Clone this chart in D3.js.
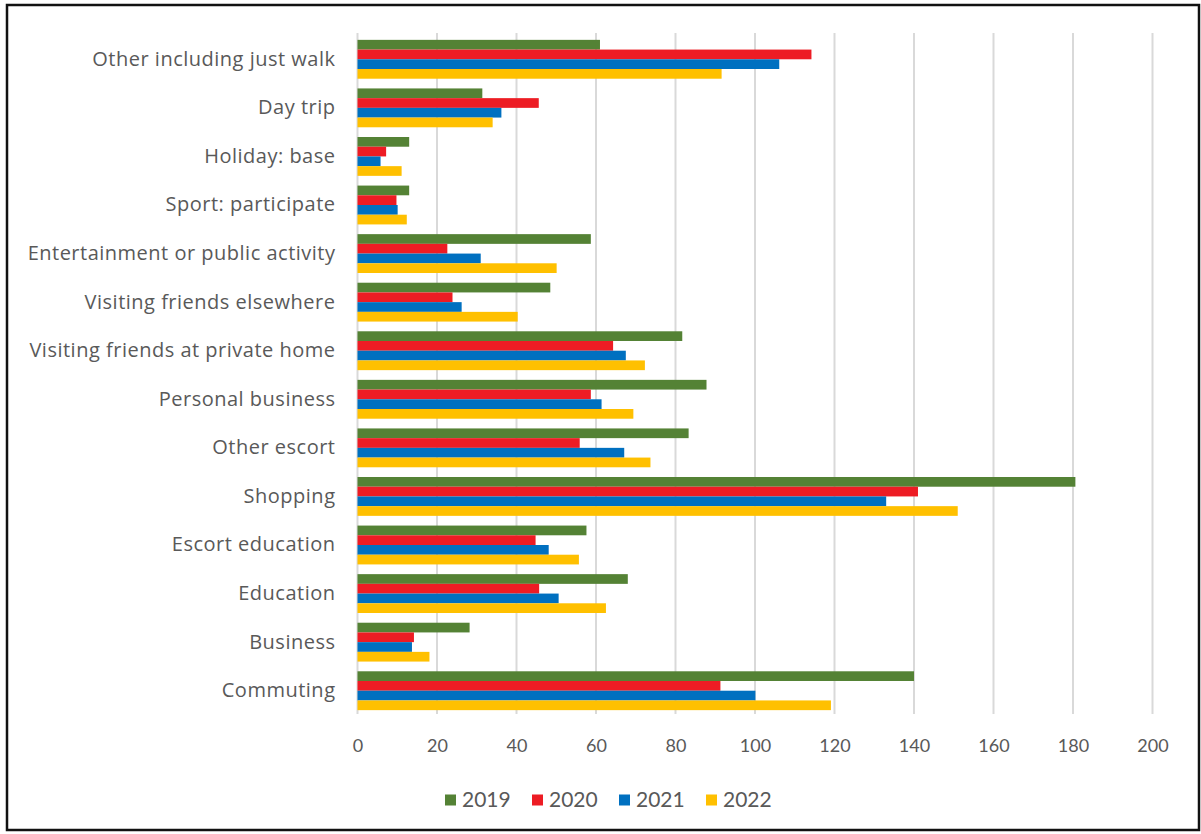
<!DOCTYPE html>
<html>
<head>
<meta charset="utf-8">
<script src="https://cdn.jsdelivr.net/npm/d3@7"></script>
<style>
  html, body { margin: 0; padding: 0; background: #fff; }
  svg { display: block; }
  text { font-family: Lato, "Open Sans", sans-serif; fill: #595959; }
</style>
</head>
<body>
<svg id="chart" width="1201" height="834"></svg>
<script>
// Trip purposes, top to bottom
const categories = [
  "Other including just walk",
  "Day trip",
  "Holiday: base",
  "Sport: participate",
  "Entertainment or public activity",
  "Visiting friends elsewhere",
  "Visiting friends at private home",
  "Personal business",
  "Other escort",
  "Shopping",
  "Escort education",
  "Education",
  "Business",
  "Commuting"
];

const years = ["2019", "2020", "2021", "2022"];
const colors = ["#548235", "#ED1C24", "#0070C0", "#FFC000"];

const values2019 = [61.0, 31.4, 13.0, 13.0, 58.7, 48.5, 81.7, 87.8, 83.3, 180.6, 57.6, 68.0, 28.2, 140.0];
const values2020 = [114.2, 45.6, 7.2, 9.8, 22.6, 23.9, 64.3, 58.7, 55.9, 141.0, 44.8, 45.7, 14.2, 91.3];
const values2021 = [106.1, 36.2, 5.8, 10.1, 31.0, 26.2, 67.5, 61.4, 67.1, 133.0, 48.1, 50.6, 13.7, 100.1];
const values2022 = [91.6, 34.0, 11.1, 12.4, 50.1, 40.3, 72.3, 69.4, 73.7, 151.0, 55.7, 62.5, 18.1, 119.1];

const xTicks = [0, 20, 40, 60, 80, 100, 120, 140, 160, 180, 200];

const seriesValues = [values2019, values2020, values2021, values2022];
const rows = categories.map((c, i) => ({
  category: c,
  values: years.map((y, k) => ({ year: y, value: seriesValues[k][i], color: colors[k] }))
}));

const svg = d3.select("#chart");

// Outer frame
svg.append("rect")
  .attr("x", 7).attr("y", 5)
  .attr("width", 1192).attr("height", 825)
  .attr("fill", "none")
  .attr("stroke", "#111")
  .attr("stroke-width", 2.5);

const plot = { left: 357.5, right: 1152.5, top: 35, bottom: 715 };

const x = d3.scaleLinear().domain([0, 200]).range([plot.left, plot.right]);
const y = d3.scaleBand().domain(categories).range([plot.top, plot.bottom])
  .paddingInner(0.2).paddingOuter(0.1);
const ySub = d3.scaleBand().domain(years).range([0, y.bandwidth()]);

// Vertical gridlines
svg.append("g")
  .selectAll("line")
  .data(xTicks)
  .join("line")
  .attr("x1", d => x(d)).attr("x2", d => x(d))
  .attr("y1", 33).attr("y2", 714)
  .attr("stroke", "#d9d9d9")
  .attr("stroke-width", 2);

// Bars
const groups = svg.append("g")
  .selectAll("g")
  .data(rows)
  .join("g")
  .attr("transform", d => `translate(0,${y(d.category)})`);

groups.selectAll("rect")
  .data(d => d.values)
  .join("rect")
  .attr("x", x(0))
  .attr("y", d => ySub(d.year))
  .attr("width", d => x(d.value) - x(0))
  .attr("height", ySub.bandwidth())
  .attr("fill", d => d.color);

// Category axis
const yAxis = svg.append("g")
  .attr("transform", `translate(${plot.left},0)`)
  .call(d3.axisLeft(y).tickSize(0).tickPadding(22));
yAxis.select(".domain").remove();
yAxis.selectAll("text")
  .style("font-size", "20px")
  .style("letter-spacing", "0.5px")
  .style("font-family", "'Open Sans', Lato, sans-serif")
  .attr("fill", "#595959");

// Value axis labels
const xAxis = svg.append("g")
  .attr("transform", `translate(0,${plot.bottom})`)
  .call(d3.axisBottom(x).tickValues(xTicks).tickSize(0).tickPadding(24));
xAxis.select(".domain").remove();
xAxis.selectAll("text")
  .style("font-size", "18px")
  .style("font-family", "Lato, 'Open Sans', sans-serif")
  .attr("fill", "#595959");

// Legend
const legendX = [445, 532, 619, 706];
const legend = svg.append("g")
  .selectAll("g")
  .data(years)
  .join("g")
  .attr("transform", (d, i) => `translate(${legendX[i]},800)`);
legend.append("rect")
  .attr("x", 0).attr("y", -5.5)
  .attr("width", 11).attr("height", 11)
  .attr("fill", (d, i) => colors[i]);
legend.append("text")
  .attr("x", 17).attr("y", 0)
  .attr("dy", "0.35em")
  .style("font-size", "21px")
  .text(d => d);
</script>
</body>
</html>
